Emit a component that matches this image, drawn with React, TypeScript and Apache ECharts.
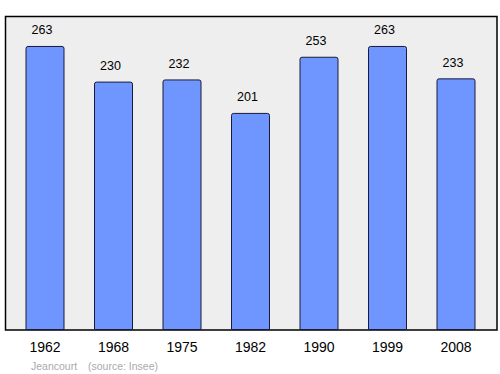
import React, { useEffect, useRef } from "react";
import * as echarts from "echarts";

const years = ["1962", "1968", "1975", "1982", "1990", "1999", "2008"];
const population = [263, 230, 232, 201, 253, 263, 233];
const footerName = "Jeancourt";
const footerSource = "(source: Insee)";

export default function App() {
  const ref = useRef<HTMLDivElement>(null);
  useEffect(() => {
    if (!ref.current) return;
    const chart = echarts.init(ref.current, undefined, { renderer: "svg" });
    chart.setOption({
      animation: false,
      graphic: [
        {
          type: "rect",
          z: -10,
          shape: { x: 5.5, y: 16.5, width: 491.5, height: 313.5 },
          style: { fill: "#eeeeee", stroke: "#000000", lineWidth: 1.5 },
          silent: true,
        },
        {
          type: "text",
          x: 31,
          y: 360,
          style: { text: footerName, fill: "#aaaaaa", font: "10.5px 'Liberation Sans', Arial, sans-serif" },
        },
        {
          type: "text",
          x: 88,
          y: 360,
          style: { text: footerSource, fill: "#aaaaaa", font: "10.5px 'Liberation Sans', Arial, sans-serif" },
        },
      ],
      grid: { left: 10.75, right: 9.75, bottom: 44, height: 302.4, containLabel: false },
      xAxis: {
        type: "category",
        data: years,
        axisLine: { show: false },
        axisTick: { show: false },
        axisLabel: {
          color: "#000000",
          fontSize: 14,
          fontFamily: "'Liberation Sans', Arial, sans-serif",
          margin: 10,
        },
      },
      yAxis: {
        type: "value",
        min: 0,
        max: 280,
        show: false,
        splitLine: { show: false },
      },
      series: [
        {
          type: "bar",
          data: population,
          barWidth: 39,
          itemStyle: {
            color: "#6f96ff",
            borderColor: "#1a1a3a",
            borderWidth: 1,
            borderRadius: [2, 2, 0, 0],
          },
          label: {
            show: true,
            position: "top",
            distance: 9,
            offset: [-3, 0],
            color: "#000000",
            fontSize: 12.5,
            fontFamily: "'Liberation Sans', Arial, sans-serif",
          },
        },
      ],
    });
    return () => chart.dispose();
  }, []);
  return <div ref={ref} style={{ width: 500, height: 374, position: "absolute", left: 0, top: 0 }} />;
}
